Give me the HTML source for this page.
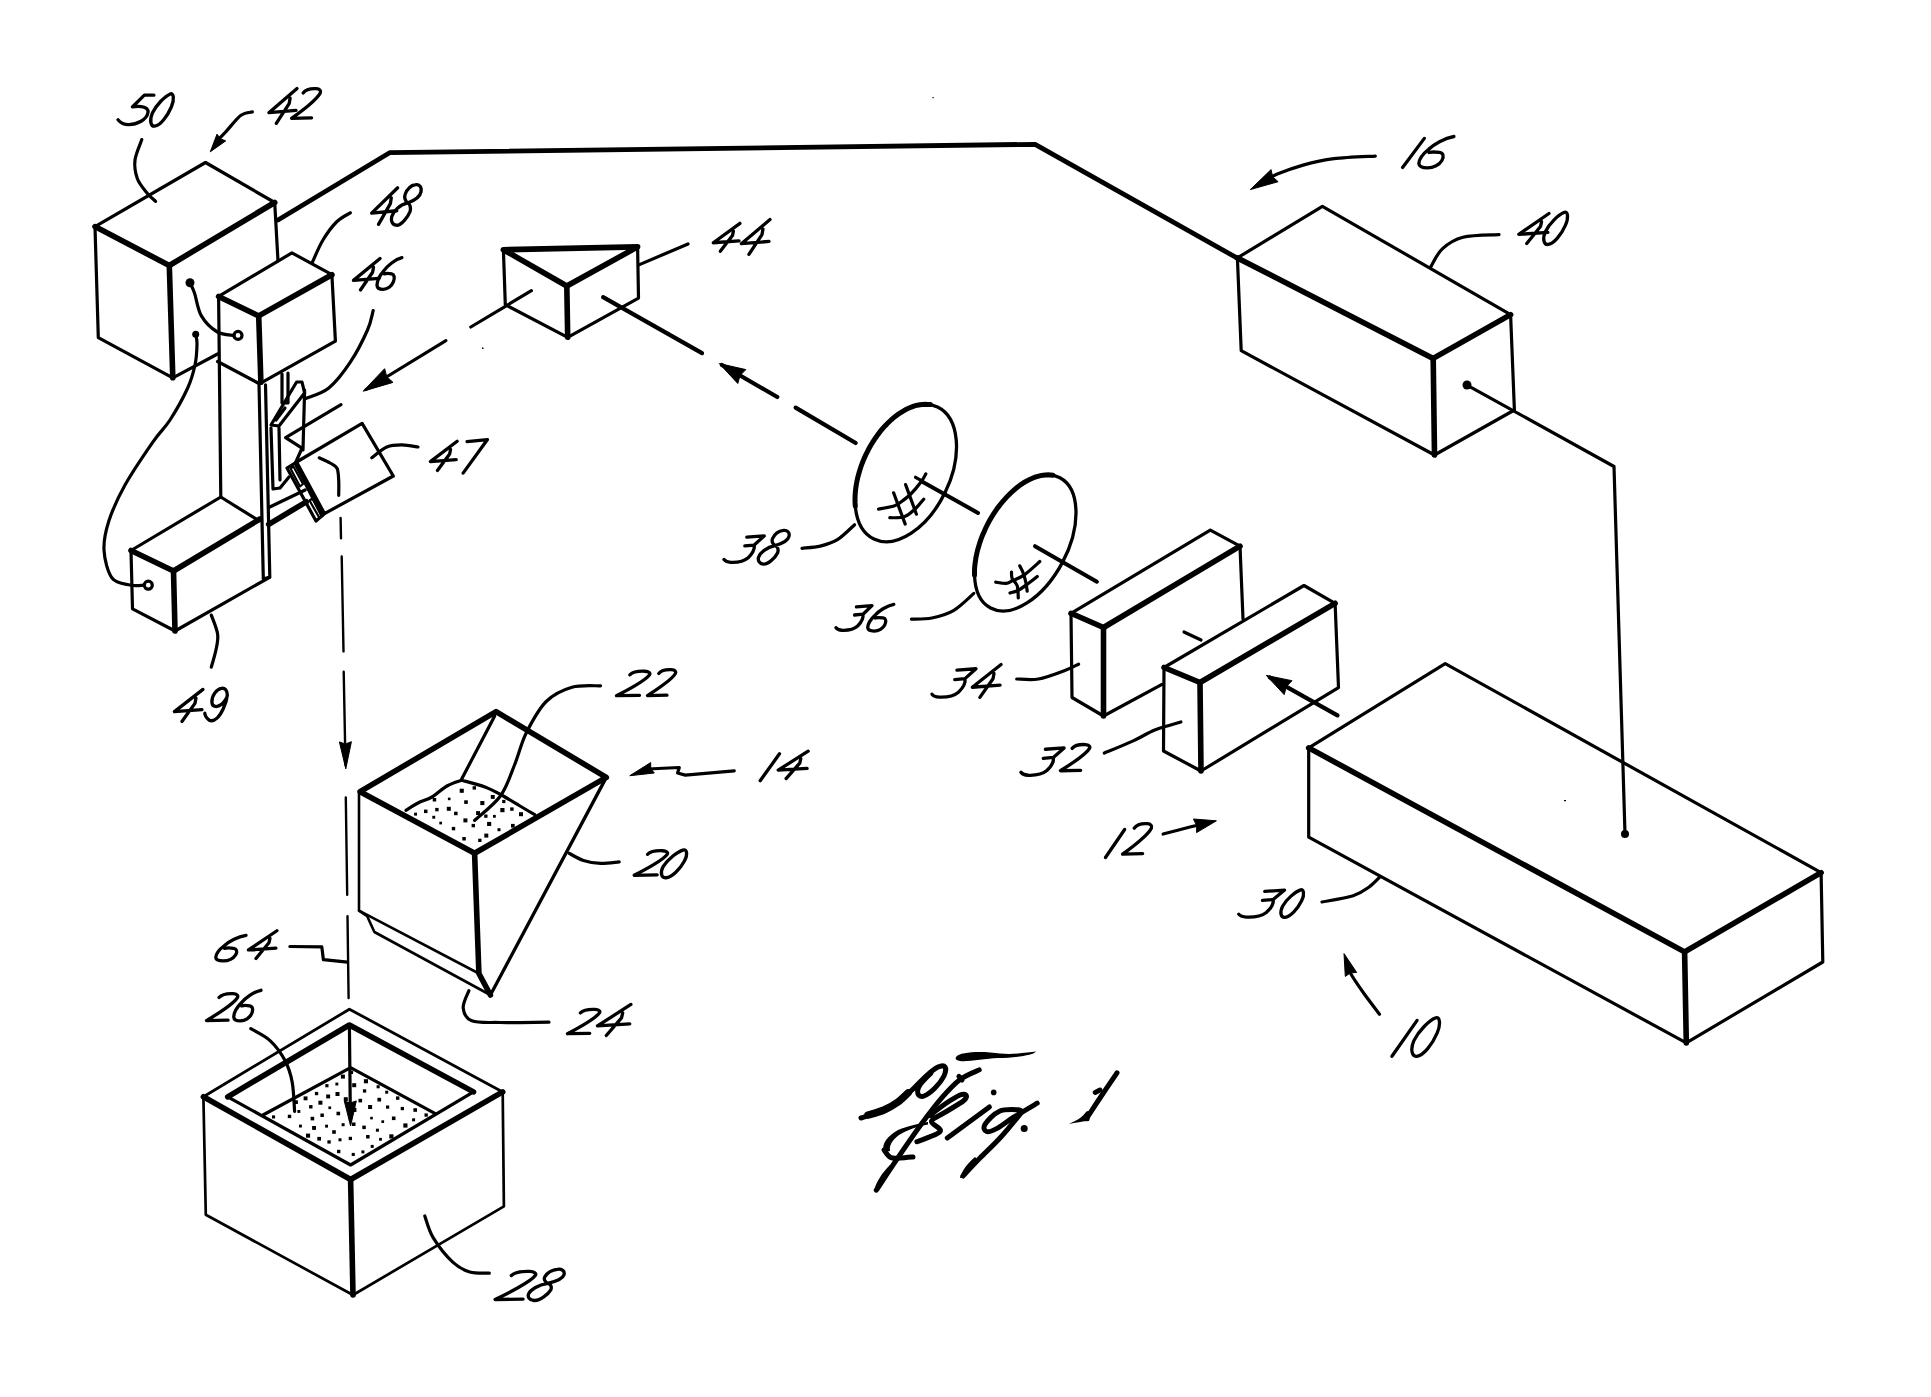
<!DOCTYPE html>
<html><head><meta charset="utf-8"><style>
html,body{margin:0;padding:0;background:#fff;overflow:hidden;font-family:"Liberation Sans",sans-serif;}
svg{display:block;}
.m{fill:none;stroke:#000;stroke-width:3.2;stroke-linecap:round;stroke-linejoin:round;}
.t{fill:none;stroke:#000;stroke-width:5.6;stroke-linecap:round;stroke-linejoin:round;}
.l{fill:none;stroke:#000;stroke-width:3.2;stroke-linecap:round;stroke-linejoin:round;}
.g{fill:none;stroke:#000;stroke-linecap:round;stroke-linejoin:round;vector-effect:non-scaling-stroke;}
.f{fill:#000;stroke:#000;stroke-width:1;stroke-linejoin:round;}
.d{fill:#000;stroke:none;}
.fgt{fill:none;stroke:#000;stroke-width:7.5;stroke-linecap:round;stroke-linejoin:round;}
.fg{fill:none;stroke:#000;stroke-width:5;stroke-linecap:round;stroke-linejoin:round;}
</style></head><body>
<svg width="1931" height="1397" viewBox="0 0 1931 1397">
<polyline class="m" style="stroke-width:4.8" points="278.0,220.0 389.6,152.7 1035.1,144.3 1237.9,258.5"/>
<polyline class="m" points="95.0,226.6 205.5,162.5 274.7,202.5 278.0,261.0"/>
<polyline class="m" points="95.0,226.6 98.3,337.7 172.8,377.8 217.6,354.0"/>
<polyline class="t" points="95.0,226.6 169.3,265.5 274.7,202.5"/>
<line class="t" x1="169.3" y1="265.5" x2="172.8" y2="377.8"/>
<polyline class="m" points="218.6,296.4 291.9,252.9 331.9,274.7 335.4,341.1 262.0,382.3"/>
<polyline class="t" points="218.6,296.4 258.7,315.9 331.9,274.7"/>
<line class="t" x1="258.7" y1="315.9" x2="260.9" y2="382.3"/>
<line class="m" x1="218.6" y1="296.4" x2="220.8" y2="497.0"/>
<line class="m" x1="217.6" y1="361.5" x2="259.0" y2="383.5"/>
<polyline class="m" points="259.0,383.7 263.3,579.0 269.8,577.0 265.5,384.8"/>
<polyline class="m" points="131.0,550.5 220.8,497.0 258.6,520.6"/>
<polyline class="t" points="131.0,550.5 173.5,571.0 260.0,519.0"/>
<polyline class="m" points="131.0,550.5 132.5,608.8 175.0,631.0 269.6,577.3"/>
<line class="t" x1="173.5" y1="571.0" x2="175.0" y2="631.0"/>
<line class="m" x1="269.8" y1="507.0" x2="305.2" y2="490.0"/>
<line class="t" x1="268.7" y1="524.3" x2="306.3" y2="501.8"/>
<polyline class="l" points="282.0,374.0 282.0,403.0 288.0,403.0 288.0,373.0"/>
<polyline class="m" points="271.0,425.0 296.6,382.0 302.0,382.0 304.6,393.0 279.0,426.0 271.0,425.0"/>
<polyline class="l" points="276.0,420.0 285.0,408.0"/>
<polyline class="m" points="271.0,428.0 273.0,489.0 280.0,488.0 289.0,477.0"/>
<line class="l" x1="279.0" y1="428.0" x2="280.0" y2="480.0"/>
<line class="m" x1="304.6" y1="390.0" x2="303.0" y2="450.0"/>
<polyline class="m" points="341.0,404.6 285.6,437.7 302.0,448.2 295.0,464.0"/>
<polygon class="m" points="362.1,423.4 393.3,476.0 324.5,513.6 296.6,462.0"/>
<polyline class="m" points="296.6,462.0 287.0,468.0 316.0,521.0 324.5,513.6"/>
<polygon class="l" style="stroke-width:2.2" points="290.5,468.5 293.5,466.5 303.0,484.0 300.0,486.5"/>
<polygon class="l" style="stroke-width:2.2" points="309.5,500.5 312.5,498.5 322.5,516.0 319.5,518.0"/>
<line class="m" style="stroke-width:4.2" x1="297.0" y1="466.0" x2="322.0" y2="515.0"/>
<path class="l" d="M319.2,457.8 C321.0,458.7 327.0,461.2 330.0,463.0 C333.0,464.8 335.6,465.5 337.0,468.3 C338.4,471.1 338.4,475.5 338.7,480.0 C339.0,484.5 338.7,492.8 338.7,495.3"/>
<polyline class="m" points="503.4,249.7 505.3,304.7 567.7,337.3 638.5,298.1 637.6,246.9"/>
<polygon class="t" points="503.4,249.7 637.6,246.9 566.8,286.0"/>
<line class="t" x1="566.8" y1="286.0" x2="567.7" y2="337.3"/>
<polygon class="m" points="1237.4,257.9 1322.4,206.3 1510.6,314.6 1514.4,410.0 1434.5,455.0 1241.2,350.7"/>
<polyline class="t" points="1237.4,257.9 1433.2,358.4 1510.6,314.6"/>
<line class="t" x1="1433.2" y1="358.4" x2="1434.5" y2="455.0"/>
<polyline class="m" points="1468.3,385.8 1614.0,466.5 1625.0,833.9"/>
<circle class="d" cx="1467" cy="385" r="4.5"/>
<circle class="d" cx="1625" cy="834" r="4"/>
<polyline class="m" points="1071.0,613.3 1210.3,530.2 1240.0,546.2 1243.0,619.0"/>
<polyline class="m" points="1071.0,613.3 1072.0,697.5 1103.5,716.0 1162.0,684.3"/>
<polyline class="t" points="1071.0,613.3 1103.5,627.5 1240.0,546.2"/>
<line class="t" x1="1103.5" y1="627.5" x2="1103.5" y2="716.0"/>
<polygon class="m" points="1164.0,667.5 1304.0,585.5 1335.1,603.3 1338.5,687.6 1201.0,771.0 1163.5,751.0"/>
<polyline class="t" points="1164.0,667.5 1200.0,682.5 1335.1,603.3"/>
<line class="t" x1="1200.0" y1="682.5" x2="1201.0" y2="771.0"/>
<polygon class="m" points="1308.7,747.9 1445.2,663.6 1821.1,872.6 1822.8,962.0 1686.3,1042.9 1308.7,837.2"/>
<polyline class="t" points="1308.7,747.9 1684.6,951.9 1821.1,872.6"/>
<line class="t" x1="1684.6" y1="951.9" x2="1686.3" y2="1042.9"/>
<polygon class="t" points="496.1,711.6 360.1,791.7 474.6,853.3 606.3,777.4"/>
<polyline class="m" style="stroke-width:2.6" points="359.0,791.7 359.0,910.6 367.2,916.3 374.4,932.0 490.4,995.0"/>
<polyline class="m" style="stroke-width:3.3" points="490.4,995.0 606.3,777.4"/>
<line class="m" style="stroke-width:2.6" x1="359.0" y1="910.6" x2="478.9" y2="973.5"/>
<polyline class="t" points="474.6,853.3 478.9,973.5 490.4,995.0"/>
<polyline class="l" points="494.7,715.9 461.7,779.0"/>
<path class="l" d="M405.9,810.3 C407.9,809.1 413.6,805.2 418.0,803.0 C422.4,800.8 427.2,799.8 432.0,797.0 C436.8,794.2 442.1,788.8 447.0,786.0 C451.9,783.2 459.2,781.2 461.7,780.3"/>
<path class="l" d="M461.7,780.3 C465.6,781.4 478.1,784.4 485.0,787.0 C491.9,789.6 497.4,792.8 503.2,796.0 C509.0,799.2 514.8,802.9 520.0,806.0 C525.2,809.1 532.2,813.2 534.7,814.6"/>
<polyline class="m" style="stroke-width:2.8" points="203.4,1096.8 349.4,1009.2 502.7,1091.9"/>
<polyline class="t" points="203.4,1096.8 350.6,1179.5 502.7,1091.9"/>
<polyline class="t" points="227.7,1096.8 349.4,1025.0 473.5,1091.9"/>
<polyline class="m" points="227.7,1096.8 350.6,1165.0 473.5,1091.9"/>
<polyline class="l" points="263.0,1115.0 350.6,1067.6 435.7,1113.8"/>
<polyline class="m" style="stroke-width:2.7" points="203.4,1096.8 205.8,1214.8 353.0,1295.0 503.9,1206.3 502.7,1091.9"/>
<line class="t" x1="350.6" y1="1179.5" x2="353.0" y2="1295.0"/>
<ellipse style="fill:none;stroke:#000;stroke-width:3.3" cx="905.75" cy="473" rx="43.9" ry="73.3" transform="rotate(25.7 905.75 473)"/>
<polyline style="fill:none;stroke:#000;stroke-width:5;stroke-linecap:round" points="930.2,404.6 927.7,404.4 925.2,404.3 922.6,404.4 920.0,404.7 917.3,405.2 914.6,405.9 911.9,406.9 909.1,408.0 906.3,409.3 903.6,410.8 900.8,412.5 898.1,414.3 895.3,416.4 892.6,418.6 890.0,421.0 887.4,423.5 884.8,426.2 882.3,429.0 879.9,431.9 877.6,435.0 875.3,438.2 873.2,441.4 871.1,444.8 869.1,448.3 867.3,451.8 865.5,455.4 863.9,459.1 862.4,462.7 861.0,466.5 859.8,470.2 858.7,474.0 857.7,477.7 856.9,481.4 856.2,485.1 855.7,488.8 855.3,492.4 855.1,496.0 855.0,499.5 855.1,502.9 855.3,506.2"/>
<ellipse style="fill:none;stroke:#000;stroke-width:3.3" cx="1025.25" cy="542.9" rx="42" ry="73.8" transform="rotate(28 1025.25 542.9)"/>
<polyline style="fill:none;stroke:#000;stroke-width:5;stroke-linecap:round" points="1052.9,475.3 1050.6,475.0 1048.1,474.8 1045.6,474.9 1043.1,475.2 1040.5,475.6 1037.8,476.3 1035.1,477.2 1032.4,478.2 1029.6,479.5 1026.8,480.9 1024.1,482.5 1021.3,484.3 1018.6,486.3 1015.8,488.5 1013.1,490.8 1010.5,493.2 1007.8,495.9 1005.3,498.6 1002.7,501.5 1000.3,504.5 997.9,507.6 995.6,510.8 993.4,514.2 991.3,517.6 989.3,521.1 987.4,524.6 985.6,528.2 984.0,531.9 982.4,535.5 981.0,539.2 979.7,542.9 978.6,546.7 977.5,550.4 976.7,554.0 975.9,557.7 975.4,561.3 974.9,564.8 974.6,568.3 974.5,571.7 974.5,575.0"/>
<path class="m" d="M878.6,509.1 C881.2,508.6 890.4,507.1 894.0,506.0 C897.6,504.9 897.2,504.6 900.0,502.6 C902.8,500.6 907.2,497.6 910.8,494.0 C914.4,490.4 919.0,484.6 921.5,481.2 C924.0,477.8 925.1,475.1 925.8,473.9"/>
<path class="m" d="M889.8,517.7 C892.2,517.6 900.0,518.3 904.3,516.8 C908.6,515.3 912.3,511.5 915.5,508.6 C918.7,505.7 922.3,500.8 923.7,499.2"/>
<line class="l" x1="893.6" y1="492.8" x2="905.2" y2="524.1"/>
<line class="l" x1="905.6" y1="484.6" x2="916.4" y2="514.2"/>
<line class="l" x1="915.5" y1="477.3" x2="921.5" y2="480.7"/>
<path class="m" d="M995.7,582.2 C997.4,582.4 1003.4,583.5 1006.1,583.3 C1008.9,583.1 1009.2,582.2 1012.2,580.8 C1015.2,579.4 1019.4,578.3 1024.0,575.1 C1028.6,571.9 1037.2,563.8 1039.8,561.5"/>
<path class="m" d="M1010.0,593.0 C1011.4,592.5 1015.7,591.6 1018.6,590.1 C1021.5,588.6 1024.5,586.3 1027.6,584.0 C1030.7,581.7 1035.7,577.8 1037.3,576.5"/>
<path class="l" d="M1011.5,572.2 C1011.6,573.3 1011.2,576.3 1012.2,578.6 C1013.2,580.9 1016.2,582.6 1017.2,585.8 C1018.2,589.0 1018.1,596.0 1018.3,598.0"/>
<path class="l" d="M1019.7,565.8 C1020.3,567.0 1022.3,570.6 1023.3,573.3 C1024.3,576.0 1025.1,579.2 1025.8,582.2 C1026.5,585.2 1027.0,589.7 1027.2,591.2"/>
<line class="m" style="stroke-width:4.2" x1="603.1" y1="297.2" x2="702.0" y2="353.1"/>
<line class="m" style="stroke-width:4.2" x1="722.0" y1="365.0" x2="777.3" y2="397.0"/>
<polygon class="f" points="719.3,363.6 745.8,369.6 740.0,375.5 737.8,383.5"/>
<line class="m" style="stroke-width:4.2" x1="795.6" y1="407.6" x2="855.7" y2="443.0"/>
<line class="m" style="stroke-width:4" x1="922.8" y1="482.0" x2="978.0" y2="512.9"/>
<line class="m" style="stroke-width:4" x1="1035.0" y1="546.2" x2="1096.9" y2="581.7"/>
<line class="m" x1="1184.0" y1="632.0" x2="1201.0" y2="640.0"/>
<line class="m" style="stroke-width:4.2" x1="1270.0" y1="677.5" x2="1337.4" y2="715.4"/>
<polygon class="f" points="1266.3,675.4 1292.0,680.7 1286.3,686.7 1284.2,694.6"/>
<line class="m" x1="531.4" y1="290.7" x2="470.8" y2="327.0"/>
<line class="m" x1="445.9" y1="340.7" x2="366.0" y2="389.5"/>
<polygon class="f" points="363.2,391.2 384.6,368.7 386.8,376.8 393.0,382.4"/>
<line class="m" style="stroke-width:2.4" x1="340.6" y1="517.9" x2="341.0" y2="538.3"/>
<line class="m" style="stroke-width:2.4" x1="341.7" y1="556.5" x2="343.5" y2="651.4"/>
<line class="m" style="stroke-width:2.4" x1="343.7" y1="671.8" x2="345.5" y2="765.0"/>
<polygon class="f" points="345.8,768.8 339.4,741.9 345.4,744.0 351.4,741.7"/>
<line class="m" style="stroke-width:2.4" x1="345.8" y1="797.5" x2="347.2" y2="894.8"/>
<line class="m" style="stroke-width:2.4" x1="347.5" y1="916.3" x2="348.6" y2="998.0"/>
<line class="l" x1="349.4" y1="1025.0" x2="350.4" y2="1120.0"/>
<polygon class="f" points="350.6,1126.0 344.3,1101.1 350.3,1103.0 356.3,1100.9"/>
<circle class="d" cx="190" cy="282.7" r="4.5"/>
<path class="l" d="M190.0,282.7 C190.8,284.4 192.6,287.5 194.5,293.0 C196.4,298.5 197.6,309.4 201.4,315.9 C205.2,322.4 212.0,328.8 217.4,332.0 C222.8,335.2 231.2,334.8 234.0,335.4"/>
<circle class="l" cx="238" cy="335.4" r="4"/>
<circle class="d" cx="195.7" cy="334.2" r="3.5"/>
<path class="l" d="M195.7,334.2 C195.9,335.8 197.1,338.9 197.0,344.0 C196.9,349.1 196.6,357.7 195.0,365.0 C193.4,372.3 191.9,378.8 187.7,388.0 C183.5,397.2 175.8,411.0 170.0,420.0 C164.2,429.0 160.5,431.0 153.0,441.8 C145.5,452.6 132.3,471.9 125.0,485.0 C117.7,498.1 112.5,509.8 109.0,520.6 C105.5,531.4 103.5,540.4 104.0,550.0 C104.5,559.6 107.7,572.2 112.0,578.0 C116.3,583.8 124.7,583.8 130.0,585.0 C135.3,586.2 141.7,585.2 144.0,585.2"/>
<circle class="l" cx="148.3" cy="585.2" r="4"/>
<path class="l" d="M141.8,139.6 C140.7,143.0 135.8,153.5 135.0,160.0 C134.2,166.5 135.4,173.1 137.3,178.5 C139.2,183.9 143.4,188.4 146.4,192.2 C149.4,196.0 154.1,199.9 155.6,201.4"/>
<path class="l" d="M252.4,111.9 C250.5,112.5 245.4,112.1 241.0,115.3 C236.6,118.5 230.4,126.9 226.2,131.3 C222.0,135.8 217.7,140.2 216.0,142.0"/>
<polygon class="f" points="210.3,151.8 217.0,134.2 220.4,138.7 225.7,140.9"/>
<path class="l" d="M312.5,262.0 C314.2,258.4 318.8,247.0 322.8,240.3 C326.8,233.6 331.9,226.6 336.5,222.0 C341.1,217.4 348.0,214.3 350.3,212.8"/>
<path class="l" d="M305.2,398.7 C309.1,396.9 321.3,394.1 328.8,388.0 C336.3,381.9 343.9,371.9 350.3,362.2 C356.8,352.5 363.7,338.6 367.5,330.0 C371.3,321.4 372.2,313.8 373.2,310.6"/>
<path class="l" d="M371.8,457.8 C374.3,456.0 381.8,449.1 386.8,447.0 C391.8,444.9 396.6,444.9 401.8,444.9 C407.0,444.9 415.3,446.6 418.0,447.0"/>
<path class="l" d="M211.3,615.1 C212.4,618.2 216.8,628.2 217.6,634.0 C218.4,639.8 217.1,644.3 216.0,649.8 C214.9,655.3 212.1,664.2 211.3,667.1"/>
<line class="l" x1="639.5" y1="264.6" x2="688.0" y2="244.0"/>
<path class="l" d="M854.6,524.7 C851.7,527.2 843.1,536.1 837.4,539.7 C831.7,543.3 826.1,544.7 820.2,546.1 C814.3,547.5 805.0,547.9 802.0,548.3"/>
<path class="l" d="M973.8,593.4 C970.4,596.3 960.4,606.5 953.4,610.6 C946.4,614.7 938.9,616.6 931.9,618.0 C924.9,619.4 914.9,619.0 911.5,619.2"/>
<path class="l" d="M1078.6,664.2 C1076.1,665.3 1070.4,668.5 1063.7,671.0 C1057.0,673.5 1046.3,677.7 1038.5,679.0 C1030.7,680.3 1020.3,679.0 1016.7,679.0"/>
<path class="l" d="M1180.9,722.0 C1176.7,723.3 1163.4,726.6 1155.4,729.8 C1147.5,732.9 1141.7,737.0 1133.2,740.9 C1124.7,744.8 1109.1,751.1 1104.3,753.1"/>
<path class="l" d="M1163.1,834.0 C1167.6,832.8 1183.0,828.8 1190.0,827.0 C1197.0,825.2 1202.5,824.1 1205.0,823.5"/>
<polygon class="f" points="1216.4,820.8 1196.6,832.6 1196.7,825.4 1193.4,819.0"/>
<path class="l" d="M1375.3,156.1 C1368.4,156.5 1346.0,157.2 1334.0,158.7 C1322.0,160.2 1312.5,162.5 1303.1,165.1 C1293.6,167.7 1284.1,171.3 1277.3,174.1 C1270.5,176.9 1264.5,180.7 1262.0,182.0"/>
<polygon class="f" points="1250.3,189.6 1271.1,169.6 1272.6,176.8 1278.1,181.7"/>
<path class="l" d="M1430.7,266.9 C1432.6,263.9 1436.9,253.8 1442.3,248.9 C1447.7,244.0 1453.5,239.7 1462.9,237.3 C1472.4,234.9 1493.0,235.1 1499.0,234.7"/>
<path class="l" d="M1379.6,877.3 C1377.8,878.9 1373.5,883.9 1369.1,887.0 C1364.7,890.1 1361.0,893.3 1353.2,895.8 C1345.4,898.3 1327.2,901.0 1322.0,902.0"/>
<path class="l" d="M1379.5,1014.2 C1377.0,1010.8 1369.1,1000.7 1364.3,994.0 C1359.5,987.3 1353.8,979.1 1350.8,973.8 C1347.8,968.5 1346.8,964.0 1346.0,962.0"/>
<polygon class="f" points="1344.0,953.6 1356.7,972.5 1350.5,972.8 1345.3,976.4"/>
<path class="l" d="M474.6,820.4 C478.9,816.3 493.7,805.3 500.4,796.0 C507.1,786.7 510.4,775.0 514.7,764.5 C519.0,754.0 521.0,743.5 526.2,733.0 C531.5,722.5 538.6,709.1 546.2,701.5 C553.8,693.9 562.9,689.8 572.0,687.2 C581.1,684.6 595.8,686.0 600.6,685.8"/>
<path class="l" d="M569.1,853.3 C571.5,854.5 578.1,858.7 583.4,860.4 C588.6,862.1 594.6,863.0 600.6,863.3 C606.6,863.5 616.1,862.1 619.2,861.9"/>
<polyline class="l" points="648.0,769.0 679.3,767.5 677.6,773.0 685.3,775.1 734.2,770.8"/>
<polygon class="f" points="629.8,775.7 650.7,762.6 650.7,768.5 654.3,773.0"/>
<path class="l" d="M468.9,990.7 C467.9,993.6 462.7,1003.0 463.2,1008.0 C463.7,1013.0 465.7,1018.4 471.8,1020.8 C477.9,1023.2 487.1,1022.3 500.0,1022.5 C512.9,1022.7 540.8,1022.2 549.0,1022.2"/>
<polyline class="l" points="289.9,946.5 321.8,946.9 323.4,959.7 347.5,962.2"/>
<path class="l" d="M250.8,1028.7 C254.1,1030.7 264.6,1035.5 270.3,1040.8 C276.0,1046.1 281.2,1053.4 284.9,1060.3 C288.5,1067.2 290.6,1073.7 292.2,1082.2 C293.8,1090.7 294.2,1106.5 294.6,1111.4"/>
<path class="l" d="M424.8,1216.0 C426.2,1219.7 428.6,1230.2 433.3,1237.9 C438.0,1245.6 446.7,1256.5 452.8,1262.2 C458.9,1267.9 463.7,1270.2 469.8,1272.0 C475.9,1273.8 486.1,1273.0 489.3,1273.2"/>
<path class="g" style="stroke-width:3.3" transform="translate(118.0,94.2) scale(1.197,0.981)" d="M30,1 L22,1 L12,13 C20,11 26,14 25,19 C24,26 16,31 9,31 C5,31 2,29 0,26"/>
<path class="g" style="stroke-width:3.3" transform="translate(150.0,93.1) scale(0.793,1.050)" d="M25,1 C30,-1 31,6 27,13 C22,22 13,31 6,31.5 C1,32 -1,26 3,19 C8,11 19,3 25,1 Z"/>
<path class="g" style="stroke-width:3.3" transform="translate(268.4,88.0) scale(0.987,1.122)" d="M29,0.5 L0.5,22 L28,20 M22,9 L21,14 L8,31.5"/>
<path class="g" style="stroke-width:3.3" transform="translate(290.0,86.8) scale(1.027,1.034)" d="M12.8,6 C15,3 20,1.5 25.5,1.8 C29,2 30.5,4 29.5,6 C28,9 24,13 18,18 C12,23 5,28 1.5,30.5 L21,30"/>
<path class="g" style="stroke-width:3.3" transform="translate(371.2,187.2) scale(0.913,1.178)" d="M29,0.5 L0.5,22 L28,20 M22,9 L21,14 L8,31.5"/>
<path class="g" style="stroke-width:3.3" transform="translate(391.2,184.0) scale(0.993,1.309)" d="M24.5,0.5 C28,0 31,2 30,6 C29,10 22,13 16.5,14.5 C14,13 13,10 14,8 C16,4 20,1 24.5,0.5 Z M16.5,14.5 C19,15 20,18 19,21 C17,25 10,32 5,31.5 C1,31 -0.5,28 0.5,25 C2,21 8,16 16.5,14.5 Z"/>
<path class="g" style="stroke-width:3.3" transform="translate(353.0,258.0) scale(0.933,1.016)" d="M29,0.5 L0.5,22 L28,20 M22,9 L21,14 L8,31.5"/>
<path class="g" style="stroke-width:3.3" transform="translate(376.3,256.1) scale(0.853,1.075)" d="M30,1.5 C22,3 13,9 9,13.5 C4,18 1,22 0.8,27 C1,30 4,31 8,31 C13,31 18,28 20,24 C22,20 21,17 18,16.5 C15,16 11,16 9.3,16.5"/>
<path class="g" style="stroke-width:3.3" transform="translate(429.9,440.8) scale(0.940,0.944)" d="M29,0.5 L0.5,22 L28,20 M22,9 L21,14 L8,31.5"/>
<path class="g" style="stroke-width:3.3" transform="translate(461.8,437.9) scale(0.870,1.125)" d="M6,3.3 L29.5,1.5 L1.5,31.3"/>
<path class="g" style="stroke-width:3.3" transform="translate(173.9,688.9) scale(1.003,1.034)" d="M29,0.5 L0.5,22 L28,20 M22,9 L21,14 L8,31.5"/>
<path class="g" style="stroke-width:3.3" transform="translate(204.0,687.8) scale(0.833,1.038)" d="M28,7 C28,2 25,0 21,0.5 C15,1 9,8 9.5,14 C10,19 16,19 21,16 C25,13 28,10 28,7 C27,16 20,26 16,29 C12,32 8,32 6,31 C3,29 1,27 1,24.5"/>
<path class="g" style="stroke-width:3.3" transform="translate(712.8,222.9) scale(0.937,0.903)" d="M29,0.5 L0.5,22 L28,20 M22,9 L21,14 L8,31.5"/>
<path class="g" style="stroke-width:3.3" transform="translate(740.9,219.0) scale(1.003,1.122)" d="M29,0.5 L0.5,22 L28,20 M22,9 L21,14 L8,31.5"/>
<path class="g" style="stroke-width:3.3" transform="translate(724.0,535.0) scale(1.343,0.875)" d="M17,2.5 L30,1 L22.5,11.5 L15.5,12.5 M22.5,11.5 C23,16 22,20 18,26 C15,30 10,31.5 5,31.2 C3,31 1,30 0,28"/>
<path class="g" style="stroke-width:3.3" transform="translate(758.1,529.9) scale(1.030,1.088)" d="M24.5,0.5 C28,0 31,2 30,6 C29,10 22,13 16.5,14.5 C14,13 13,10 14,8 C16,4 20,1 24.5,0.5 Z M16.5,14.5 C19,15 20,18 19,21 C17,25 10,32 5,31.5 C1,31 -0.5,28 0.5,25 C2,21 8,16 16.5,14.5 Z"/>
<path class="g" style="stroke-width:3.3" transform="translate(836.0,604.8) scale(1.200,0.816)" d="M17,2.5 L30,1 L22.5,11.5 L15.5,12.5 M22.5,11.5 C23,16 22,20 18,26 C15,30 10,31.5 5,31.2 C3,31 1,30 0,28"/>
<path class="g" style="stroke-width:3.3" transform="translate(867.0,603.0) scale(0.893,0.906)" d="M30,1.5 C22,3 13,9 9,13.5 C4,18 1,22 0.8,27 C1,30 4,31 8,31 C13,31 18,28 20,24 C22,20 21,17 18,16.5 C15,16 11,16 9.3,16.5"/>
<path class="g" style="stroke-width:3.3" transform="translate(932.0,667.8) scale(1.467,0.941)" d="M17,2.5 L30,1 L22.5,11.5 L15.5,12.5 M22.5,11.5 C23,16 22,20 18,26 C15,30 10,31.5 5,31.2 C3,31 1,30 0,28"/>
<path class="g" style="stroke-width:3.3" transform="translate(971.8,663.9) scale(1.010,1.062)" d="M29,0.5 L0.5,22 L28,20 M22,9 L21,14 L8,31.5"/>
<path class="g" style="stroke-width:3.3" transform="translate(1021.0,747.0) scale(1.437,0.906)" d="M17,2.5 L30,1 L22.5,11.5 L15.5,12.5 M22.5,11.5 C23,16 22,20 18,26 C15,30 10,31.5 5,31.2 C3,31 1,30 0,28"/>
<path class="g" style="stroke-width:3.3" transform="translate(1058.9,742.9) scale(1.037,0.913)" d="M12.8,6 C15,3 20,1.5 25.5,1.8 C29,2 30.5,4 29.5,6 C28,9 24,13 18,18 C12,23 5,28 1.5,30.5 L21,30"/>
<path class="g" style="stroke-width:3.3" transform="translate(1104.0,829.0) scale(0.737,0.906)" d="M28,0.5 L2,31.5"/>
<path class="g" style="stroke-width:3.3" transform="translate(1121.0,821.8) scale(1.030,1.062)" d="M12.8,6 C15,3 20,1.5 25.5,1.8 C29,2 30.5,4 29.5,6 C28,9 24,13 18,18 C12,23 5,28 1.5,30.5 L21,30"/>
<path class="g" style="stroke-width:3.3" transform="translate(1400.9,137.9) scale(0.837,0.941)" d="M28,0.5 L2,31.5"/>
<path class="g" style="stroke-width:3.3" transform="translate(1417.9,134.9) scale(1.200,1.066)" d="M30,1.5 C22,3 13,9 9,13.5 C4,18 1,22 0.8,27 C1,30 4,31 8,31 C13,31 18,28 20,24 C22,20 21,17 18,16.5 C15,16 11,16 9.3,16.5"/>
<path class="g" style="stroke-width:3.3" transform="translate(1518.3,213.0) scale(1.057,0.969)" d="M29,0.5 L0.5,22 L28,20 M22,9 L21,14 L8,31.5"/>
<path class="g" style="stroke-width:3.3" transform="translate(1543.0,211.5) scale(0.833,1.047)" d="M25,1 C30,-1 31,6 27,13 C22,22 13,31 6,31.5 C1,32 -1,26 3,19 C8,11 19,3 25,1 Z"/>
<path class="g" style="stroke-width:3.3" transform="translate(1238.8,889.2) scale(1.527,0.894)" d="M17,2.5 L30,1 L22.5,11.5 L15.5,12.5 M22.5,11.5 C23,16 22,20 18,26 C15,30 10,31.5 5,31.2 C3,31 1,30 0,28"/>
<path class="g" style="stroke-width:3.3" transform="translate(1280.2,889.2) scale(0.793,0.894)" d="M25,1 C30,-1 31,6 27,13 C22,22 13,31 6,31.5 C1,32 -1,26 3,19 C8,11 19,3 25,1 Z"/>
<path class="g" style="stroke-width:3.3" transform="translate(1390.0,1019.8) scale(0.967,1.159)" d="M28,0.5 L2,31.5"/>
<path class="g" style="stroke-width:3.3" transform="translate(1411.0,1016.8) scale(0.967,1.253)" d="M25,1 C30,-1 31,6 27,13 C22,22 13,31 6,31.5 C1,32 -1,26 3,19 C8,11 19,3 25,1 Z"/>
<path class="g" style="stroke-width:3.3" transform="translate(614.7,669.7) scale(1.180,0.853)" d="M12.8,6 C15,3 20,1.5 25.5,1.8 C29,2 30.5,4 29.5,6 C28,9 24,13 18,18 C12,23 5,28 1.5,30.5 L21,30"/>
<path class="g" style="stroke-width:3.3" transform="translate(646.0,668.0) scale(0.997,0.906)" d="M12.8,6 C15,3 20,1.5 25.5,1.8 C29,2 30.5,4 29.5,6 C28,9 24,13 18,18 C12,23 5,28 1.5,30.5 L21,30"/>
<path class="g" style="stroke-width:3.3" transform="translate(632.4,849.2) scale(1.180,0.856)" d="M12.8,6 C15,3 20,1.5 25.5,1.8 C29,2 30.5,4 29.5,6 C28,9 24,13 18,18 C12,23 5,28 1.5,30.5 L21,30"/>
<path class="g" style="stroke-width:3.3" transform="translate(660.6,849.2) scale(0.883,0.906)" d="M25,1 C30,-1 31,6 27,13 C22,22 13,31 6,31.5 C1,32 -1,26 3,19 C8,11 19,3 25,1 Z"/>
<path class="g" style="stroke-width:3.3" transform="translate(758.7,753.4) scale(0.743,0.866)" d="M28,0.5 L2,31.5"/>
<path class="g" style="stroke-width:3.3" transform="translate(777.7,750.7) scale(1.050,0.884)" d="M29,0.5 L0.5,22 L28,20 M22,9 L21,14 L8,31.5"/>
<path class="g" style="stroke-width:3.3" transform="translate(565.8,1007.8) scale(1.140,0.850)" d="M12.8,6 C15,3 20,1.5 25.5,1.8 C29,2 30.5,4 29.5,6 C28,9 24,13 18,18 C12,23 5,28 1.5,30.5 L21,30"/>
<path class="g" style="stroke-width:3.3" transform="translate(596.9,1003.9) scale(1.173,1.003)" d="M29,0.5 L0.5,22 L28,20 M22,9 L21,14 L8,31.5"/>
<path class="g" style="stroke-width:3.3" transform="translate(214.9,934.0) scale(1.037,0.869)" d="M30,1.5 C22,3 13,9 9,13.5 C4,18 1,22 0.8,27 C1,30 4,31 8,31 C13,31 18,28 20,24 C22,20 21,17 18,16.5 C15,16 11,16 9.3,16.5"/>
<path class="g" style="stroke-width:3.3" transform="translate(248.0,930.3) scale(0.997,0.894)" d="M29,0.5 L0.5,22 L28,20 M22,9 L21,14 L8,31.5"/>
<path class="g" style="stroke-width:3.3" transform="translate(204.9,991.9) scale(1.103,0.941)" d="M12.8,6 C15,3 20,1.5 25.5,1.8 C29,2 30.5,4 29.5,6 C28,9 24,13 18,18 C12,23 5,28 1.5,30.5 L21,30"/>
<path class="g" style="stroke-width:3.3" transform="translate(233.0,988.7) scale(0.933,1.041)" d="M30,1.5 C22,3 13,9 9,13.5 C4,18 1,22 0.8,27 C1,30 4,31 8,31 C13,31 18,28 20,24 C22,20 21,17 18,16.5 C15,16 11,16 9.3,16.5"/>
<path class="g" style="stroke-width:3.3" transform="translate(493.0,1269.7) scale(1.433,0.978)" d="M12.8,6 C15,3 20,1.5 25.5,1.8 C29,2 30.5,4 29.5,6 C28,9 24,13 18,18 C12,23 5,28 1.5,30.5 L21,30"/>
<path class="g" style="stroke-width:3.3" transform="translate(528.0,1268.8) scale(1.200,1.006)" d="M24.5,0.5 C28,0 31,2 30,6 C29,10 22,13 16.5,14.5 C14,13 13,10 14,8 C16,4 20,1 24.5,0.5 Z M16.5,14.5 C19,15 20,18 19,21 C17,25 10,32 5,31.5 C1,31 -0.5,28 0.5,25 C2,21 8,16 16.5,14.5 Z"/>
<rect class="d" x="463.4" y="818.4" width="4.0" height="4.0"/>
<rect class="d" x="519.0" y="812.2" width="4.0" height="4.0"/>
<rect class="d" x="432.3" y="815.8" width="2.9" height="2.9"/>
<rect class="d" x="484.3" y="833.6" width="4.0" height="4.0"/>
<rect class="d" x="487.1" y="821.9" width="4.1" height="4.1"/>
<rect class="d" x="472.6" y="786.2" width="3.4" height="3.4"/>
<rect class="d" x="432.7" y="798.0" width="3.5" height="3.5"/>
<rect class="d" x="414.1" y="812.7" width="2.9" height="2.9"/>
<rect class="d" x="462.3" y="837.0" width="3.5" height="3.5"/>
<rect class="d" x="471.6" y="823.9" width="3.4" height="3.4"/>
<rect class="d" x="464.2" y="800.3" width="3.6" height="3.6"/>
<rect class="d" x="447.9" y="797.6" width="2.6" height="2.6"/>
<rect class="d" x="500.3" y="808.0" width="4.2" height="4.2"/>
<rect class="d" x="510.2" y="807.4" width="3.4" height="3.4"/>
<rect class="d" x="502.2" y="799.9" width="3.2" height="3.2"/>
<rect class="d" x="476.1" y="811.1" width="3.9" height="3.9"/>
<rect class="d" x="424.0" y="809.6" width="3.5" height="3.5"/>
<rect class="d" x="435.2" y="807.9" width="3.4" height="3.4"/>
<rect class="d" x="511.0" y="823.9" width="3.7" height="3.7"/>
<rect class="d" x="439.3" y="821.7" width="2.7" height="2.7"/>
<rect class="d" x="454.1" y="811.7" width="3.5" height="3.5"/>
<rect class="d" x="478.2" y="838.7" width="3.3" height="3.3"/>
<rect class="d" x="459.7" y="788.7" width="4.1" height="4.1"/>
<rect class="d" x="480.3" y="801.0" width="4.1" height="4.1"/>
<rect class="d" x="497.5" y="828.2" width="3.0" height="3.0"/>
<rect class="d" x="451.8" y="826.9" width="3.4" height="3.4"/>
<rect class="d" x="493.0" y="814.9" width="2.8" height="2.8"/>
<rect class="d" x="484.2" y="814.5" width="3.3" height="3.3"/>
<rect class="d" x="490.8" y="795.0" width="3.9" height="3.9"/>
<rect class="d" x="446.8" y="806.8" width="4.0" height="4.0"/>
<rect class="d" x="343.8" y="1097.2" width="4.0" height="4.0"/>
<rect class="d" x="299.0" y="1124.6" width="2.9" height="2.9"/>
<rect class="d" x="377.4" y="1097.8" width="3.7" height="3.7"/>
<rect class="d" x="325.1" y="1124.7" width="2.9" height="2.9"/>
<rect class="d" x="287.8" y="1114.7" width="3.4" height="3.4"/>
<rect class="d" x="352.2" y="1107.8" width="4.2" height="4.2"/>
<rect class="d" x="328.4" y="1106.4" width="2.7" height="2.7"/>
<rect class="d" x="352.2" y="1083.2" width="4.0" height="4.0"/>
<rect class="d" x="370.2" y="1116.8" width="2.6" height="2.6"/>
<rect class="d" x="403.3" y="1123.4" width="4.2" height="4.2"/>
<rect class="d" x="306.0" y="1133.6" width="4.1" height="4.1"/>
<rect class="d" x="400.7" y="1106.9" width="3.3" height="3.3"/>
<rect class="d" x="332.2" y="1130.2" width="3.6" height="3.6"/>
<rect class="d" x="348.7" y="1136.8" width="3.3" height="3.3"/>
<rect class="d" x="297.4" y="1110.0" width="2.9" height="2.9"/>
<rect class="d" x="386.0" y="1105.5" width="3.2" height="3.2"/>
<rect class="d" x="349.8" y="1070.7" width="3.3" height="3.3"/>
<rect class="d" x="368.1" y="1105.0" width="4.0" height="4.0"/>
<rect class="d" x="379.1" y="1137.9" width="2.8" height="2.8"/>
<rect class="d" x="366.1" y="1135.0" width="3.5" height="3.5"/>
<rect class="d" x="309.1" y="1105.1" width="3.4" height="3.4"/>
<rect class="d" x="352.0" y="1122.5" width="3.5" height="3.5"/>
<rect class="d" x="326.2" y="1094.5" width="3.9" height="3.9"/>
<rect class="d" x="336.5" y="1111.7" width="3.6" height="3.6"/>
<rect class="d" x="351.7" y="1152.9" width="3.1" height="3.1"/>
<rect class="d" x="363.9" y="1079.2" width="4.1" height="4.1"/>
<rect class="d" x="391.9" y="1116.5" width="3.6" height="3.6"/>
<rect class="d" x="385.2" y="1090.7" width="3.0" height="3.0"/>
<rect class="d" x="362.3" y="1125.6" width="3.5" height="3.5"/>
<rect class="d" x="335.5" y="1092.0" width="4.0" height="4.0"/>
<rect class="d" x="381.4" y="1120.3" width="2.7" height="2.7"/>
<rect class="d" x="413.4" y="1108.2" width="3.6" height="3.6"/>
<rect class="d" x="396.0" y="1096.4" width="3.4" height="3.4"/>
<rect class="d" x="272.0" y="1115.4" width="3.1" height="3.1"/>
<rect class="d" x="335.4" y="1082.6" width="2.9" height="2.9"/>
<rect class="d" x="361.4" y="1150.4" width="3.0" height="3.0"/>
<rect class="d" x="362.9" y="1089.3" width="3.3" height="3.3"/>
<rect class="d" x="327.4" y="1140.3" width="3.3" height="3.3"/>
<rect class="d" x="310.6" y="1116.8" width="3.6" height="3.6"/>
<rect class="d" x="412.1" y="1118.3" width="3.0" height="3.0"/>
<rect class="d" x="358.5" y="1098.8" width="3.6" height="3.6"/>
<rect class="d" x="337.0" y="1149.8" width="3.4" height="3.4"/>
<rect class="d" x="303.6" y="1096.4" width="3.9" height="3.9"/>
<rect class="d" x="312.1" y="1126.0" width="3.9" height="3.9"/>
<rect class="d" x="338.5" y="1138.3" width="3.0" height="3.0"/>
<rect class="d" x="389.3" y="1134.3" width="4.2" height="4.2"/>
<rect class="d" x="320.4" y="1113.5" width="3.5" height="3.5"/>
<rect class="d" x="376.6" y="1085.2" width="3.1" height="3.1"/>
<rect class="d" x="370.7" y="1144.9" width="3.0" height="3.0"/>
<rect class="d" x="294.2" y="1100.3" width="3.7" height="3.7"/>
<rect class="d" x="314.9" y="1091.9" width="3.3" height="3.3"/>
<rect class="d" x="317.3" y="1136.9" width="3.7" height="3.7"/>
<rect class="d" x="341.6" y="1123.2" width="3.0" height="3.0"/>
<rect class="d" x="318.4" y="1100.7" width="4.0" height="4.0"/>
<rect class="d" x="375.9" y="1128.7" width="3.0" height="3.0"/>
<rect class="d" x="340.9" y="1074.6" width="4.0" height="4.0"/>
<rect class="d" x="424.5" y="1113.4" width="3.3" height="3.3"/>
<rect class="d" x="325.3" y="1084.1" width="3.2" height="3.2"/>
<path class="d" d="M956,1057 C960,1051 985,1051 1000,1053.5 C1015,1055 1028,1052 1036,1051.5 C1034,1055 1015,1058 998,1058 C985,1058.5 968,1062 960,1061 C956,1060.5 955,1059 956,1057 Z"/>
<path class="fg" d="M861.0,1118.0 C864.2,1117.0 874.2,1114.3 880.0,1112.0 C885.8,1109.7 890.7,1107.7 896.0,1104.0 C901.3,1100.3 907.0,1094.7 912.0,1090.0 C917.0,1085.3 921.7,1079.8 926.0,1076.0 C930.3,1072.2 934.8,1068.5 938.0,1067.0 C941.2,1065.5 944.0,1065.5 945.0,1067.0 C946.0,1068.5 945.7,1072.5 944.0,1076.0 C942.3,1079.5 938.3,1084.7 935.0,1088.0 C931.7,1091.3 926.8,1095.0 924.0,1096.0 C921.2,1097.0 918.7,1095.8 918.0,1094.0 C917.3,1092.2 917.8,1088.5 920.0,1085.0 C922.2,1081.5 929.2,1075.0 931.0,1073.0"/>
<path class="fgt" d="M868.0,1115.0 C870.7,1114.2 879.0,1112.2 884.0,1110.0 C889.0,1107.8 894.0,1104.8 898.0,1102.0 C902.0,1099.2 906.3,1094.5 908.0,1093.0"/>
<path class="fg" d="M979.2,1069.9 C976.1,1071.5 966.7,1074.6 960.4,1079.3 C954.1,1084.0 948.0,1090.7 941.5,1098.2 C935.0,1105.7 928.5,1114.4 921.2,1124.3 C914.0,1134.2 905.5,1146.6 898.0,1157.6 C890.5,1168.6 879.9,1184.8 876.3,1190.2"/>
<path class="d" d="M874,1191 C876,1182 882,1173 890,1165 L893,1168 C886,1175 880,1184 877,1191 Z"/>
<path class="fg" d="M958.9,1076.4 C959.4,1077.0 961.5,1079.4 962.0,1080.0"/>
<path class="d" d="M884,1152 C881,1143 888,1136 898,1130 C908,1126 920,1123 928,1122 L928,1124.5 C918,1126 907,1130 899,1135 C892,1140 889,1146 890,1151 Z"/>
<path class="fg" d="M884.0,1150.0 C885.1,1151.3 888.1,1156.3 890.8,1157.6 C893.5,1158.9 896.3,1158.1 900.0,1158.0 C903.7,1157.9 910.8,1157.2 913.0,1157.0"/>
<path class="fg" d="M929.9,1115.6 C932.4,1113.7 940.0,1107.4 945.0,1104.0 C950.0,1100.6 956.5,1096.5 960.0,1095.0 C963.5,1093.5 965.7,1094.3 966.2,1095.3 C966.8,1096.3 966.9,1098.1 963.3,1101.0 C959.7,1103.9 949.7,1109.3 944.4,1112.7 C939.1,1116.1 932.1,1118.3 931.4,1121.4 C930.7,1124.5 942.5,1128.1 940.1,1131.5 C937.7,1134.9 920.8,1140.0 916.9,1141.7"/>
<line class="fg" x1="947.3" y1="1138.0" x2="989.4" y2="1106.9"/>
<circle class="d" cx="993.7" cy="1092.4" r="2.8"/>
<path class="fg" d="M1037.2,1103.2 C1033.3,1105.5 1020.8,1112.8 1014.0,1117.0 C1007.2,1121.2 1001.2,1126.2 996.6,1128.6 C992.0,1131.0 988.4,1132.2 986.5,1131.5 C984.6,1130.8 982.8,1127.7 985.0,1124.3 C987.2,1120.9 993.9,1113.6 999.5,1111.2 C1005.1,1108.8 1014.8,1109.7 1018.4,1109.8 C1022.0,1109.9 1020.6,1111.6 1021.0,1112.0"/>
<path class="fg" d="M1021.3,1112.7 C1017.8,1116.9 1006.9,1130.5 1000.0,1138.0 C993.1,1145.5 986.2,1151.7 980.0,1158.0 C973.8,1164.3 965.8,1173.0 963.0,1176.0"/>
<path class="d" d="M960,1178 C962,1170 968,1163 975,1157 L978,1160 C971,1166 966,1172 963,1178 Z"/>
<circle class="d" cx="1024.2" cy="1128.6" r="3.5"/>
<path class="fg" d="M1117.0,1072.8 C1114.2,1077.0 1105.1,1090.4 1100.0,1098.0 C1094.9,1105.6 1088.8,1115.1 1086.5,1118.5"/>
<path class="d" d="M1069,1124 C1075,1121 1082,1118 1086,1112 C1090,1108 1091,1116 1089,1121 C1083,1121 1075,1123 1069,1124 Z"/>
<line class="fg" x1="1095.2" y1="1092.4" x2="1100.0" y2="1090.0"/>
<rect class="d" x="1564" y="800" width="2" height="1.2"/>
<rect class="d" x="482" y="347.5" width="1.5" height="1.5"/>
<rect class="d" x="932.5" y="97" width="1.2" height="1.2"/>
</svg>
</body></html>
